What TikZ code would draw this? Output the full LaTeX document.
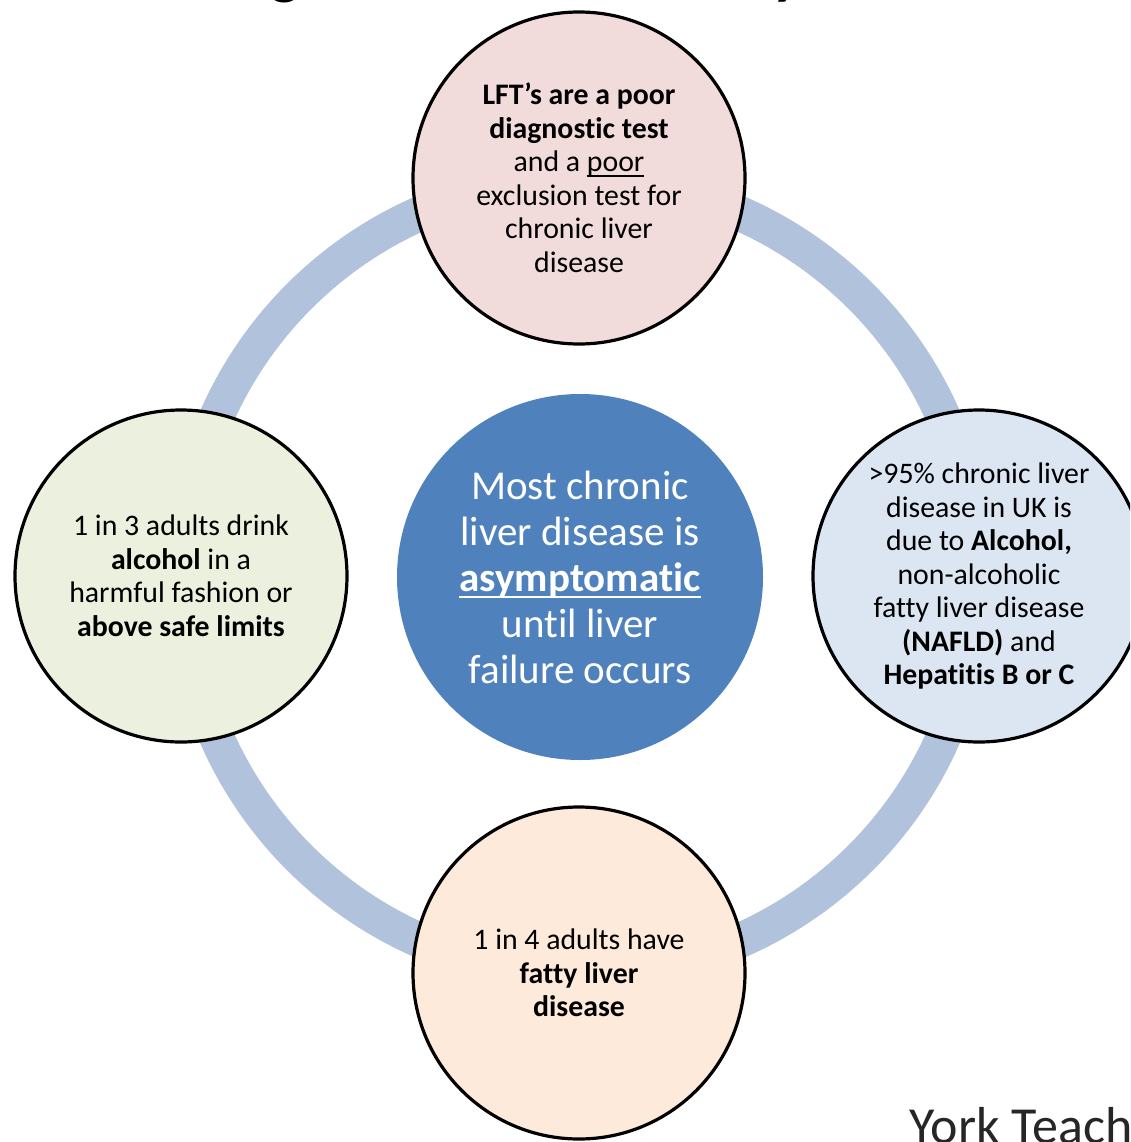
\documentclass[tikz,border=0pt]{standalone}
\usepackage{fontspec}
\setmainfont[Ligatures={NoCommon}]{Carlito}
\usetikzlibrary{backgrounds}

\definecolor{ringblue}{RGB}{176,194,220}
\definecolor{hubblue}{RGB}{79,129,189}
\definecolor{pinkfill}{RGB}{242,220,219}
\definecolor{greenfill}{RGB}{235,241,222}
\definecolor{lightbluefill}{RGB}{220,230,242}
\definecolor{peachfill}{RGB}{253,234,218}
\definecolor{credittext}{RGB}{38,38,38}

% underline that sits at a fixed depth below the baseline
\newcommand{\undl}[1]{\setbox0\hbox{#1}\rlap{\rule[-0.17em]{\wd0}{0.055em}}\box0}

\tikzset{
  factnode/.style={circle, draw=black, line width=3.2pt, minimum size=332pt,
    inner sep=0pt, align=center, text=black,
    font=\fontsize{29.8}{33.5}\selectfont},
  hubnode/.style={circle, fill=hubblue, minimum size=366pt, inner sep=0pt,
    align=center, text=white, font=\fontsize{41}{46}\selectfont},
  ringline/.style={draw=ringblue, line width=35pt},
  titlefrag/.style={anchor=base, inner sep=0pt, text=black,
    font=\bfseries\fontsize{62}{70}\selectfont}
}

\begin{document}
\begin{tikzpicture}[x=1pt, y=-1pt]
\useasboundingbox (0,0) rectangle (1130,1142);
\clip (0,0) rectangle (1130,1142);

% heading above the frame: only descenders reach into view
\node[titlefrag] (tg) at (285,-7) {g};
\node[titlefrag] (ty) at (787,-7) {y};

% central statement
\node[hubnode] (hub) at (580,577)
  {Most chronic\\liver disease is\\\undl{\bfseries asymptomatic}\\until liver\\failure occurs};

% four surrounding facts
\node[factnode, fill=pinkfill] (top) at (579,178)
  {\bfseries LFT’s are a poor\\\bfseries diagnostic test\\and a \undl{poor}\\exclusion test for\\chronic liver\\disease};
\node[factnode, fill=greenfill] (left) at (181,576)
  {1 in 3 adults drink\\\textbf{alcohol} in a\\harmful fashion or\\\textbf{above safe limits}};
\node[factnode, fill=lightbluefill] (right) at (979,576)
  {>95\% chronic liver\\disease in UK is\\due to \textbf{Alcohol,}\\non-alcoholic\\fatty liver disease\\\textbf{(NAFLD)} and\\\textbf{Hepatitis B or C}};
\node[factnode, fill=peachfill] (bottom) at (579,973)
  {1 in 4 adults have\\\textbf{fatty liver}\\\textbf{disease}};

% ring linking the facts, behind everything
\begin{scope}[on background layer]
  \draw[ringline] (hub.center) circle[radius=397];
\end{scope}

% footer credit
\node[anchor=base west, inner sep=0pt, text=credittext,
  font=\fontsize{52}{60}\selectfont] (credit) at (909,1143) {York Teach};
\end{tikzpicture}
\end{document}
